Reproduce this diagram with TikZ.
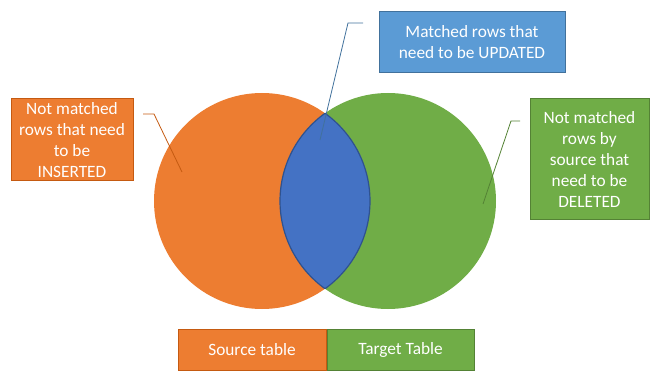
\documentclass[tikz,border=0pt]{standalone}
\usepackage{fontspec}
\setmainfont{Carlito}
\usetikzlibrary{positioning}
\definecolor{SrcOrange}{RGB}{237,125,49}
\definecolor{SrcEdge}{RGB}{197,90,17}
\definecolor{TgtGreen}{RGB}{112,173,71}
\definecolor{TgtEdge}{RGB}{84,130,53}
\definecolor{LensBlue}{RGB}{68,114,196}
\definecolor{LensEdge}{RGB}{47,82,143}
\definecolor{NoteBlue}{RGB}{91,155,213}
\definecolor{NoteEdge}{RGB}{65,113,156}
\tikzset{
  setcircle/.style={circle,minimum size=216pt,inner sep=0pt},
  notebox/.style={draw,line width=1pt,align=center,text=white,inner sep=0pt,
    font=\fontsize{17.3}{21}\selectfont},
  legendbox/.style={draw,line width=1pt,text=white,inner sep=0pt,
    minimum width=148pt,minimum height=41pt,font=\fontsize{17.3}{21}\selectfont},
  leader/.style={line width=0.8pt}
}
\begin{document}
\begin{tikzpicture}[x=1pt,y=-1pt]
  \useasboundingbox (0,0) rectangle (659,377);
  % the two sets
  \node[setcircle,fill=SrcOrange] (src) at (262,201) {};
  \node[setcircle,fill=TgtGreen] (tgt) at (388,201) {};
  \begin{scope}
    \clip (src.center) circle[radius=108pt];
    \fill[LensBlue] (tgt.center) circle[radius=108pt];
    \draw[LensEdge,line width=1.2pt] (tgt.center) circle[radius=108pt];
  \end{scope}
  \begin{scope}
    \clip (tgt.center) circle[radius=108pt];
    \draw[LensEdge,line width=1.2pt] (src.center) circle[radius=108pt];
  \end{scope}
  % notes
  \node[notebox,draw=SrcEdge,fill=SrcOrange,minimum width=122pt,minimum height=82pt] (insnote) at (72,140)
    {Not matched\\rows that need\\to be\\INSERTED};
  \node[notebox,draw=NoteEdge,fill=NoteBlue,minimum width=186pt,minimum height=61pt] (updnote) at (472,42.5)
    {Matched rows that\\need to be UPDATED};
  \node[notebox,draw=TgtEdge,fill=TgtGreen,minimum width=119pt,minimum height=120pt] (delnote) at (589.5,159)
    {Not matched\\rows by\\source that\\need to be\\DELETED};
  % leader lines
  \coordinate (insfoot) at (143,114);
  \coordinate (insbend) at (154,114);
  \coordinate (instip) at (182,172);
  \coordinate (updfoot) at (363,23);
  \coordinate (updbend) at (348,23);
  \coordinate (updtip) at (320,140);
  \coordinate (delfoot) at (520,121);
  \coordinate (delbend) at (511,121);
  \coordinate (deltip) at (483,204);
  \draw[leader,draw=SrcEdge] (insfoot) -- (insbend) -- (instip);
  \draw[leader,draw=NoteEdge] (updfoot) -- (updbend) -- (updtip);
  \draw[leader,draw=TgtEdge] (delfoot) -- (delbend) -- (deltip);
  % legend
  \node[legendbox,draw=SrcEdge,fill=SrcOrange] (srcleg) at (252,349.5) {Source table};
  \node[legendbox,draw=TgtEdge,fill=TgtGreen,minimum width=147pt,right=0pt of srcleg] (tgtleg) {Target Table};
\end{tikzpicture}
\end{document}
